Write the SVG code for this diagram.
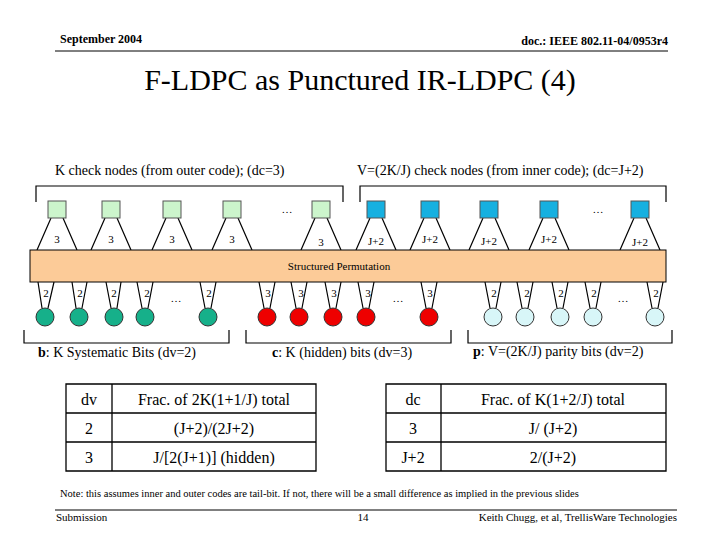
<svg xmlns="http://www.w3.org/2000/svg" width="720" height="540" viewBox="0 0 720 540" font-family="'Liberation Serif', 'Times New Roman', 'DejaVu Serif', serif">
<style>
text{font-family:'Liberation Serif','DejaVu Serif',serif;fill:#000}
.s{font-size:11px}
.g{fill:#ccf5cc;stroke:#555;stroke-width:1}
.b{fill:#16b0e0;stroke:#555;stroke-width:1}
.cg{fill:#16b08a;stroke:#333}
.cr{fill:#ee0000;stroke:#333}
.cb{fill:#d8f6f8;stroke:#333}
.ln{stroke:#000;stroke-width:1.2;fill:none}
.tb{fill:none;stroke:#000;stroke-width:1.3}
.t{font-size:16px;text-anchor:middle}
</style>
<rect width="720" height="540" fill="#fff"/>
<text x="60" y="43" font-size="12" font-weight="bold">September 2004</text>
<text x="668" y="45" font-size="12" font-weight="bold" text-anchor="end">doc.: IEEE 802.11-04/0953r4</text>
<line x1="55" y1="51" x2="668" y2="51" stroke="#000"/>
<text x="360" y="90" font-size="30" text-anchor="middle">F-LDPC as Punctured IR-LDPC (4)</text>
<text x="55" y="175" font-size="14">K check nodes (from outer code); (dc=3)</text>
<text x="357" y="175" font-size="14">V=(2K/J) check nodes (from inner code); (dc=J+2)</text>
<g id="connectors" class="ln">
<path d="M36 202V186H343V202M360 202V186H666V202"/>
<path d="M24 330V343H229V330M246 330V343H451V330M468 330V343H672V330"/>
<path d="M51 218L37 250M63 218L77 250M105 218L91 250M117 218L131 250M166 218L152 250M178 218L192 250M226 218L212 250M238 218L252 250M315 218L301 250M327 218L341 250"/>
<path d="M370 218L356 250M382 218L396 250M424 218L410 250M436 218L450 250M483 218L469 250M495 218L509 250M543 218L529 250M555 218L569 250M634 218L620 250M646 218L660 250"/>
<path d="M38 282L42 308M54 282L48 308M72 282L76 308M87 282L82 308M106 282L111 308M121 282L117 308M137 282L142 308M153 282L148 308M200 282L205 308M216 282L211 308"/>
<path d="M259 282L264 308M275 282L270 308M291 282L296 308M307 282L302 308M325 282L330 308M341 282L336 308M358 282L363 308M374 282L369 308M421 282L426 308M437 282L432 308"/>
<path d="M485 282L490 308M501 282L496 308M517 282L522 308M533 282L528 308M552 282L557 308M568 282L563 308M585 282L590 308M601 282L596 308M647 282L652 308M663 282L658 308"/>
</g>
<g id="outer-checks">
<rect class="g" x="48" y="201" width="18" height="17"/><rect class="g" x="102" y="201" width="18" height="17"/><rect class="g" x="163" y="201" width="18" height="17"/><rect class="g" x="223" y="201" width="18" height="17"/><rect class="g" x="312" y="201" width="18" height="17"/>
<g class="s" text-anchor="middle"><text x="57" y="243">3</text><text x="111" y="243">3</text><text x="172" y="243">3</text><text x="232" y="243">3</text><text x="321" y="246">3</text><text x="287" y="213">…</text></g>
</g>
<g id="inner-checks">
<rect class="b" x="367" y="201" width="18" height="17"/><rect class="b" x="421" y="201" width="18" height="17"/><rect class="b" x="480" y="201" width="18" height="17"/><rect class="b" x="540" y="201" width="18" height="17"/><rect class="b" x="631" y="201" width="18" height="17"/>
<g class="s" text-anchor="middle"><text x="376" y="245">J+2</text><text x="430" y="243">J+2</text><text x="489" y="245">J+2</text><text x="549" y="243">J+2</text><text x="640" y="246">J+2</text><text x="598" y="213">…</text></g>
</g>
<g id="permutation">
<rect x="30" y="250" width="636" height="32" fill="#fccb98" stroke="#000"/>
<text x="339" y="270" class="s" text-anchor="middle">Structured Permutation</text>
</g>
<g id="sys-bits">
<circle class="cg" cx="45" cy="317" r="9"/><circle class="cg" cx="79" cy="317" r="9"/><circle class="cg" cx="114" cy="317" r="9"/><circle class="cg" cx="145" cy="317" r="9"/><circle class="cg" cx="208" cy="317" r="9"/>
<g class="s" text-anchor="middle"><text x="46" y="297">2</text><text x="80" y="297">2</text><text x="114" y="297">2</text><text x="147" y="297">2</text><text x="209" y="297">2</text><text x="176" y="302">…</text></g>
<text x="38" y="357" font-size="14"><tspan font-weight="bold">b</tspan>: K Systematic Bits (dv=2)</text>
</g>
<g id="hidden-bits">
<circle class="cr" cx="267" cy="317" r="9"/><circle class="cr" cx="299" cy="317" r="9"/><circle class="cr" cx="333" cy="317" r="9"/><circle class="cr" cx="366" cy="317" r="9"/><circle class="cr" cx="429" cy="317" r="9"/>
<g class="s" text-anchor="middle"><text x="268" y="297">3</text><text x="301" y="297">3</text><text x="334" y="297">3</text><text x="368" y="297">3</text><text x="430" y="297">3</text><text x="398" y="302">…</text></g>
<text x="272" y="357" font-size="14"><tspan font-weight="bold">c</tspan>: K (hidden) bits (dv=3)</text>
</g>
<g id="parity-bits">
<circle class="cb" cx="493" cy="317" r="9"/><circle class="cb" cx="525" cy="317" r="9"/><circle class="cb" cx="560" cy="317" r="9"/><circle class="cb" cx="593" cy="317" r="9"/><circle class="cb" cx="655" cy="317" r="9"/>
<g class="s" text-anchor="middle"><text x="494" y="297">2</text><text x="527" y="297">2</text><text x="561" y="297">2</text><text x="594" y="297">2</text><text x="656" y="297">2</text><text x="623" y="302">…</text></g>
<text x="473" y="356" font-size="14"><tspan font-weight="bold">p</tspan>: V=(2K/J) parity bits (dv=2)</text>
</g>
<g id="table-left">
<path class="tb" d="M66 384H316V471H66ZM66 413H316M66 442H316M112 384V471"/>
<text class="t" x="89" y="405">dv</text><text class="t" x="214" y="405">Frac. of 2K(1+1/J) total</text>
<text class="t" x="89" y="434">2</text><text class="t" x="214" y="434">(J+2)/(2J+2)</text>
<text class="t" x="89" y="463">3</text><text class="t" x="214" y="463">J/[2(J+1)] (hidden)</text>
</g>
<g id="table-right">
<path class="tb" d="M386 384H666V471H386ZM386 413H666M386 442H666M441 384V471"/>
<text class="t" x="413" y="405">dc</text><text class="t" x="553" y="405">Frac. of K(1+2/J) total</text>
<text class="t" x="413" y="434">3</text><text class="t" x="553" y="434">J/ (J+2)</text>
<text class="t" x="413" y="463">J+2</text><text class="t" x="553" y="463">2/(J+2)</text>
</g>
<text x="60" y="497" font-size="10.5">Note: this assumes inner and outer codes are tail-bit.  If not, there will be a small difference as implied in the previous slides</text>
<line x1="55" y1="510" x2="677" y2="510" stroke="#000"/>
<text x="56" y="521" font-size="11">Submission</text>
<text x="363" y="521" font-size="11" text-anchor="middle">14</text>
<text x="677" y="521" font-size="11" text-anchor="end">Keith Chugg, et al, TrellisWare Technologies</text>
</svg>
